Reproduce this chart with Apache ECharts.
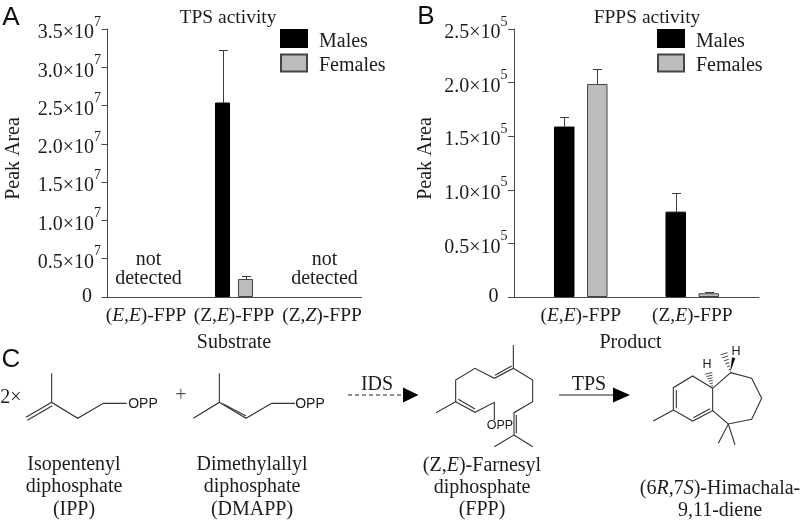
<!DOCTYPE html>
<html><head><meta charset="utf-8">
<style>html,body{margin:0;padding:0;background:#fff}#c{width:800px;height:523px}</style>
<script src="https://cdn.jsdelivr.net/npm/echarts@6/dist/echarts.min.js"></script>
</head><body><div id="c"></div>
<script>
// ---- data ----
const substrates = ['(E,E)-FPP', '(Z,E)-FPP', '(Z,Z)-FPP'];
const products = ['(E,E)-FPP', '(Z,E)-FPP'];
const tpsMales = [null, 2.54e7, null];
const tpsFemales = [null, 0.235e7, null];
const tpsMalesErrTop = [null, 3.22e7, null];
const tpsFemalesErrTop = [null, 0.28e7, null];
const tpsNotDetected = [0, null, 0];
const fppsMales = [1.59e5, 0.796e5];
const fppsFemales = [1.987e5, 0.035e5];
const fppsMalesErrTop = [1.676e5, 0.967e5];
const fppsFemalesErrTop = [2.124e5, 0.05e5];
const tpsTicks = ['0', '0.5', '1.0', '1.5', '2.0', '2.5', '3.0', '3.5'];
const fppsTicks = ['0', '0.5', '1.0', '1.5', '2.0', '2.5'];

const SERIF = '"Liberation Serif","Times New Roman",serif';
const SANS = '"Liberation Sans",Arial,sans-serif';
const INK = '#1c1c1c', LINE = '#4a4a4a';
const FS = 19.5;

const catFmt = v => v.replace('(Z,Z)', '(Z,{i|Z})').replace(/E/g, '{i|E}');
const italicRich = { i: { fontFamily: SERIF, fontStyle: 'italic', fontSize: FS, color: INK } };

function frameY(gridIndex, max, interval, ticks, exp, nameGap) {
  return {
    type: 'value', gridIndex, min: 0, max, interval,
    name: 'Peak Area', nameLocation: 'middle', nameGap, nameMoveOverlap: false,
    nameTextStyle: { fontFamily: SERIF, fontSize: 20, color: INK, padding: [0, 0, 0, 9] },
    splitLine: { show: false },
    axisLine: { show: true, lineStyle: { color: LINE, width: 1 } },
    axisTick: { show: true, length: 6, lineStyle: { color: LINE, width: 1 } },
    axisLabel: {
      margin: 6.5, color: INK, fontFamily: SERIF, fontSize: 20, hideOverlap: false,
      showMinLabel: true, showMaxLabel: true,
      formatter: (v) => {
        const k = Math.round(v / interval);
        return k === 0 ? '{z|0}' : '{b|' + ticks[k] + '×10}{s|' + exp + '}';
      },
      rich: {
        z: { fontFamily: SERIF, fontSize: 20, color: INK, padding: [0, 9, 0, 0] },
        b: { fontFamily: SERIF, fontSize: 20, color: INK, lineHeight: 28, verticalAlign: 'bottom' },
        s: { fontFamily: SERIF, fontSize: 14, color: INK, lineHeight: 28, verticalAlign: 'top' }
      }
    }
  };
}
const frameX = (gridIndex, cats) => ({
  type: 'category', gridIndex, data: cats,
  axisLine: { show: true, onZero: true, lineStyle: { color: LINE, width: 1 } },
  axisTick: { show: false }, axisLabel: { show: false }, splitLine: { show: false }
});
const barX = (gridIndex, cats, name, namePad) => ({
  type: 'category', gridIndex, data: cats,
  name, nameLocation: 'middle', nameGap: 35.5, nameMoveOverlap: false,
  nameTextStyle: { fontFamily: SERIF, fontSize: 20, color: INK, padding: namePad },
  axisLine: { show: false }, axisTick: { show: false },
  axisLabel: { margin: 9, interval: 0, color: INK, fontFamily: SERIF, fontSize: FS, formatter: catFmt, rich: italicRich }
});
const hiddenY = (gridIndex, max) => ({ type: 'value', gridIndex, min: 0, max, show: false });

const maleStyle = { color: '#000', borderColor: '#000', borderWidth: 1 };
const femaleStyle = { color: '#bcbcbc', borderColor: '#444', borderWidth: 1 };

function bars(axisIndex, name, vals, style, width, gap) {
  return { type: 'bar', name, xAxisIndex: axisIndex, yAxisIndex: axisIndex, data: vals, barWidth: width, barGap: gap,
    itemStyle: style, animation: false, z: 3 };
}
function errs(axisIndex, name, tops, base, offset, cap) {
  return {
    type: 'custom', name, xAxisIndex: axisIndex, yAxisIndex: axisIndex, animation: false, z: 2, silent: true,
    encode: { x: 0, y: [1, 2] },
    data: tops.map((t, i) => t == null ? null : [i, base[i], t]).filter(Boolean),
    renderItem: (p, api) => {
      const a = api.coord([api.value(0), api.value(1)]);
      const b = api.coord([api.value(0), api.value(2)]);
      const x = Math.round(a[0] + offset) + 0.5, y = Math.round(b[1]) + 0.5;
      const st = { stroke: '#3c3c3c', lineWidth: 1, fill: null };
      return { type: 'group', children: [
        { type: 'line', shape: { x1: x, y1: a[1], x2: x, y2: y }, style: st },
        { type: 'line', shape: { x1: x - cap, y1: y, x2: x + cap, y2: y }, style: st }
      ] };
    }
  };
}
const legend = (left) => ({
  left, top: 29, orient: 'vertical', padding: 0, itemWidth: 26, itemHeight: 17, itemGap: 2, icon: 'rect',
  selectedMode: false, data: ['Males', 'Females'],
  formatter: '{a|{name}}',
  textStyle: { fontFamily: SERIF, fontSize: 20, color: INK,
    rich: { a: { fontFamily: SERIF, fontSize: 20, color: INK, padding: [6, 0, 0, 7] } } }
});
const titleOf = (text, x) => ({ text, left: x, top: 8, textAlign: 'center', padding: 0,
  textStyle: { fontFamily: SERIF, fontSize: 19.5, fontWeight: 'normal', color: INK } });

// ---- diagram graphic helpers (decorative panel C) ----
const g = [];
const LW = 1.1, DC = '#333';
const cx = (ox, oy, pts) => pts.map(p => [ox + p[0] / 3, oy + p[1] / 3]);
function pl(ox, oy, pts, extra) {
  g.push({ type: 'polyline', silent: true, shape: { points: cx(ox, oy, pts) },
    style: Object.assign({ stroke: DC, lineWidth: LW, fill: null }, extra || {}) });
}
function txt(text, x, y, o) {
  g.push({ type: 'text', silent: true, x, y, style: Object.assign({
    text, fontFamily: SERIF, fontSize: 20, fill: INK, align: 'center', verticalAlign: 'middle',
    rich: { i: { fontFamily: SERIF, fontStyle: 'italic', fontSize: 20, fill: INK } }
  }, o || {}) });
}
// panel letters
[['A', 11, 17.5, 0], ['B', 426, 17, 0], ['C', 11, 360, 0]].forEach(t =>
  txt(t[0], t[1], t[2], { fontFamily: SANS, fontSize: 26, fill: '#111' }));

// IPP
pl(0, 340, [[155, 100], [155, 187], [233, 235], [310, 190], [380, 190]]);
pl(0, 340, [[155, 187], [78, 232]]); pl(0, 340, [[157, 197], [82, 241]]);
txt('OPP', 143, 404, { fontFamily: SANS, fontSize: 14 });
txt('2×', 11, 398);
txt('+', 181, 396, { fill: '#555' });
// DMAPP
pl(0, 340, [[658, 100], [658, 187], [580, 235]]);
pl(0, 340, [[658, 187], [738, 235], [815, 190], [885, 190]]);
pl(0, 340, [[668, 191], [738, 228]]);
txt('OPP', 310, 404, { fontFamily: SANS, fontSize: 14 });
// captions
txt('Isopentenyl', 74, 465); txt('diphosphate', 74, 487); txt('(IPP)', 74, 510);
txt('Dimethylallyl', 252, 465); txt('diphosphate', 252, 487); txt('(DMAPP)', 252, 510);
txt('(Z,{i|E})-Farnesyl', 482, 466); txt('diphosphate', 482, 488); txt('(FPP)', 482, 510);
txt('(6{i|R},7{i|S})-Himachala-', 720, 489); txt('9,11-diene', 720, 511);
// arrows
g.push({ type: 'line', silent: true, shape: { x1: 348, y1: 395, x2: 408, y2: 395 }, style: { stroke: '#222', lineWidth: 1.2, lineDash: [4, 3] } });
g.push({ type: 'polygon', silent: true, shape: { points: [[403, 387.5], [418.5, 395], [403, 402.5]] }, style: { fill: '#000' } });
txt('IDS', 377, 385);
g.push({ type: 'line', silent: true, shape: { x1: 559, y1: 395, x2: 616, y2: 395 }, style: { stroke: '#222', lineWidth: 1.2 } });
g.push({ type: 'polygon', silent: true, shape: { points: [[613, 387.5], [630, 395], [613, 402.5]] }, style: { fill: '#000' } });
txt('TPS', 589, 385);
// FPP
const F = [400, 340];
pl(F[0], F[1], [[340, 15], [340, 85], [283, 115], [225, 85], [167, 120], [167, 185], [108, 218]]);
pl(F[0], F[1], [[167, 185], [225, 217], [283, 187], [283, 240]]);
pl(F[0], F[1], [[340, 85], [398, 120], [398, 185], [342, 218], [342, 285], [283, 320]]);
pl(F[0], F[1], [[342, 285], [398, 320]]);
pl(F[0], F[1], [[335, 78], [285, 106]]);
pl(F[0], F[1], [[175, 178], [225, 207]]);
pl(F[0], F[1], [[349, 225], [349, 280]]);
txt('OPP', 500, 425.5, { fontFamily: SANS, fontSize: 12.5 });
// Himachaladiene
pl(F[0], F[1], [[938, 145], [878, 108], [820, 143], [820, 210], [878, 243], [938, 212], [938, 145]]);
pl(F[0], F[1], [[829, 150], [829, 205]]);
pl(F[0], F[1], [[880, 233], [930, 206]]);
pl(F[0], F[1], [[820, 210], [760, 243]]);
pl(F[0], F[1], [[938, 145], [992, 98], [1055, 115], [1085, 175], [1055, 238], [985, 252], [938, 212]]);
pl(F[0], F[1], [[985, 252], [955, 310]]);
pl(F[0], F[1], [[985, 252], [1005, 315]]);
g.push({ type: 'polygon', silent: true, shape: { points: cx(F[0], F[1], [[990, 98], [996, 52], [1006, 55]]) }, style: { fill: '#111' } });
[[0.15, 3], [0.3, 4.5], [0.45, 6], [0.6, 7.5], [0.75, 9], [0.9, 10.5]].forEach(([t, w]) => {
  const x = 992 + (970 - 992) * t, y = 98 + (35 - 98) * t;
  pl(F[0], F[1], [[x - w, y + w * 0.3], [x + w, y - w * 0.3]], { lineWidth: 0.9 });
  const x2 = 938 + (925 - 938) * t, y2 = 145 + (95 - 145) * t;
  pl(F[0], F[1], [[x2 - w, y2 + w * 0.25], [x2 + w, y2 - w * 0.25]], { lineWidth: 0.9 });
});
txt('H', 707, 365, { fontFamily: SANS, fontSize: 12.5 });
txt('H', 736, 352, { fontFamily: SANS, fontSize: 12.5 });

const option = {
  backgroundColor: '#fff',
  animation: false,
  title: [titleOf('TPS activity', 228), titleOf('FPPS activity', 647)],
  legend: [legend(280), legend(657)],
  grid: [
    { left: 107.5, width: 254, top: 29, height: 268, outerBoundsMode: 'none' },
    { left: 102, width: 264, top: 29, height: 268, outerBoundsMode: 'none' },
    { left: 514, width: 245, top: 29, height: 268, outerBoundsMode: 'none' },
    { left: 525, width: 223, top: 29, height: 268, outerBoundsMode: 'none' }
  ],
  xAxis: [frameX(0, substrates), barX(1, substrates, 'Substrate', 0), frameX(2, products), barX(3, products, 'Product', [0, 12, 0, 0])],
  yAxis: [
    frameY(0, 3.5e7, 0.5e7, tpsTicks, 7, 83.5), hiddenY(1, 3.5e7),
    frameY(2, 2.5e5, 0.5e5, fppsTicks, 5, 78), hiddenY(3, 2.5e5)
  ],
  series: [
    bars(1, 'Males', tpsMales, maleStyle, 15, '53%'),
    bars(1, 'Females', tpsFemales, femaleStyle, 15, '53%'),
    errs(1, 'TPS male error', tpsMalesErrTop, tpsMales, -11.5, 4.5),
    errs(1, 'TPS female error', tpsFemalesErrTop, tpsFemales, 11.5, 4.5),
    { type: 'scatter', name: 'not detected', xAxisIndex: 1, yAxisIndex: 1, symbolSize: 0, silent: true,
      itemStyle: { opacity: 1 },
      data: tpsNotDetected.map((v, i) => v == null ? null : [i, v]).filter(Boolean),
      label: { show: true, position: 'top', distance: 9, offset: [2.5, 0], formatter: 'not\ndetected',
        fontFamily: SERIF, fontSize: 20, lineHeight: 19, color: INK, opacity: 1 } },
    bars(3, 'Males', fppsMales, maleStyle, 20.5, '61%'),
    bars(3, 'Females', fppsFemales, femaleStyle, 20.5, '61%'),
    errs(3, 'FPPS male error', fppsMalesErrTop, fppsMales, -16.5, 4.5),
    errs(3, 'FPPS female error', fppsFemalesErrTop, fppsFemales, 16.5, 4.5),
    { type: 'line', xAxisIndex: 0, yAxisIndex: 0, data: [], silent: true },
    { type: 'line', xAxisIndex: 2, yAxisIndex: 2, data: [], silent: true }
  ],
  graphic: { elements: g }
};
echarts.init(document.getElementById('c'), null, { renderer: 'canvas' }).setOption(option);
</script></body></html>
